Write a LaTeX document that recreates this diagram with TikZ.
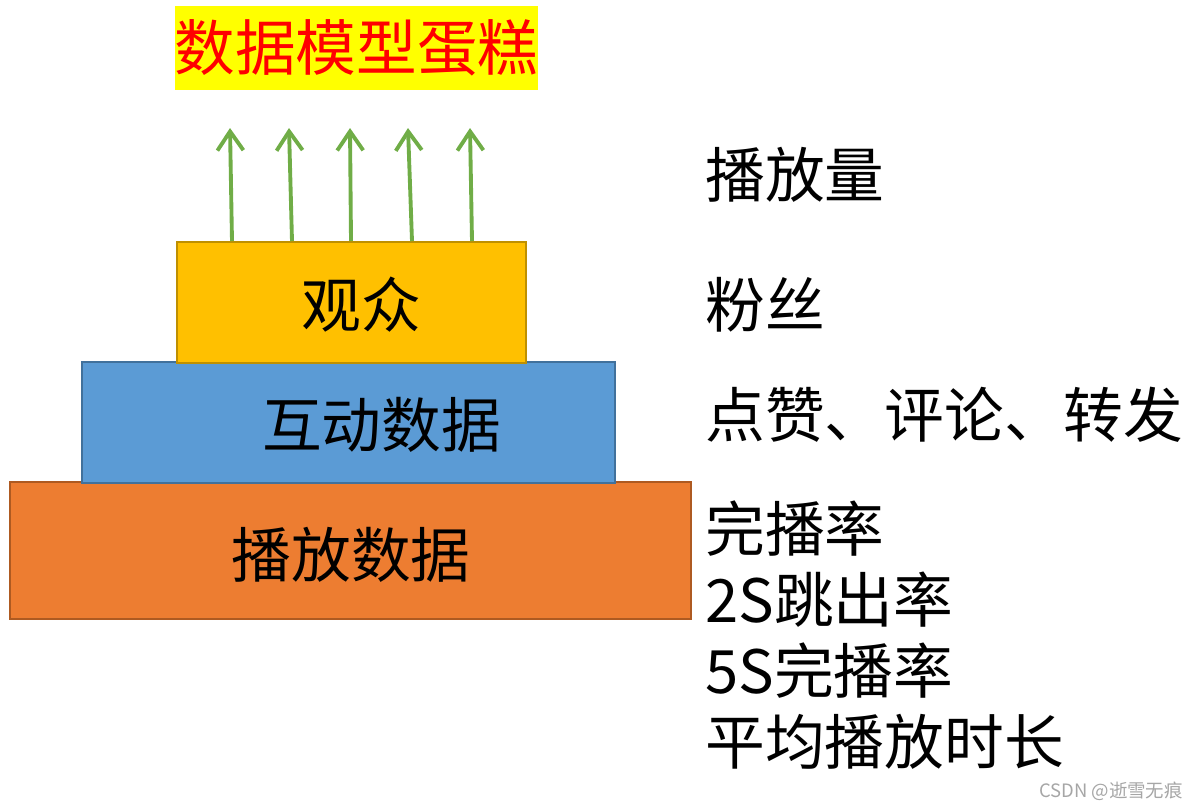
\documentclass[tikz,border=0pt]{standalone}
\usepackage{fontspec}
\setmainfont{Noto Sans CJK SC}
\usepackage{xcolor}
\usepackage{tikz}
\usetikzlibrary{positioning,arrows.meta}
\definecolor{CakeGold}{HTML}{FFC000}
\definecolor{CakeGoldLine}{HTML}{BF9000}
\definecolor{CakeBlue}{HTML}{5B9BD5}
\definecolor{CakeBlueLine}{HTML}{41719C}
\definecolor{CakeOrange}{HTML}{ED7D31}
\definecolor{CakeOrangeLine}{HTML}{AE5A21}
\definecolor{ArrowGreen}{HTML}{70AD47}
\definecolor{TitleYellow}{HTML}{FFFF00}
\tikzset{
  layer/.style={rectangle,line width=0.9pt,inner sep=0pt},
  cakelabel/.style={font=\fontsize{34}{40}\selectfont,text=black,inner sep=0pt},
  sidelabel/.style={font=\fontsize{34}{40.5}\selectfont,text=black,anchor=west,
    align=left,inner sep=0pt},
  uparrow/.style={draw=ArrowGreen,line width=2.2pt,
    -{Straight Barb[length=0.38cm,width=0.52cm,line width=2.2pt]}},
}
\begin{document}
\begin{tikzpicture}
  \useasboundingbox (0,0) rectangle (23.9,-16.18);
  % title
  \node[fill=TitleYellow,minimum width=7.26cm,minimum height=1.68cm,inner sep=0pt,
    font=\fontsize{34.5}{40}\selectfont,text=red] (title) at (7.13,-0.96) {数据模型蛋糕};
  % cake layers
  \node[layer,draw=CakeOrangeLine,fill=CakeOrange,minimum width=13.62cm,
    minimum height=2.74cm] (play) at (7.01,-11.01) {};
  \node[layer,draw=CakeBlueLine,fill=CakeBlue,minimum width=10.66cm,
    minimum height=2.42cm] (inter) at (6.97,-8.45) {};
  \node[layer,draw=CakeGoldLine,fill=CakeGold,minimum width=6.98cm,
    minimum height=2.42cm] (aud) at (7.03,-6.05) {};
  \node[cakelabel] (audtxt) at (7.23,-6.1) {观众};
  \node[cakelabel] (intertxt) at (7.63,-8.5) {互动数据};
  \node[cakelabel] (playtxt) at (7.02,-11.1) {播放数据};
  % arrows
  \foreach \i/\xb/\xt in {1/4.64/4.60,2/5.84/5.78,3/7.02/7.00,4/8.24/8.16,5/9.44/9.40} {
    \coordinate (top\i) at (\xt,-2.56);
    \draw[uparrow] (aud.north -| \xb,0) -- (top\i);
  }
  % side texts
  \node[sidelabel] (views) at (14.1,-3.5) {播放量};
  \node[sidelabel] (fans) at (14.1,-6.1) {粉丝};
  \node[sidelabel] (likes) at (14.1,-8.3) {点赞、评论、转发};
  \node[sidelabel,anchor=north west] (rates) at (14.1,-10.0)
    {完播率\\2S跳出率\\5S完播率\\平均播放时长};
  \node[font=\fontsize{10.5}{12}\selectfont,text=gray!70,inner sep=0pt] (mark)
    at (22.22,-15.82) {CSDN @逝雪无痕};
\end{tikzpicture}
\end{document}
